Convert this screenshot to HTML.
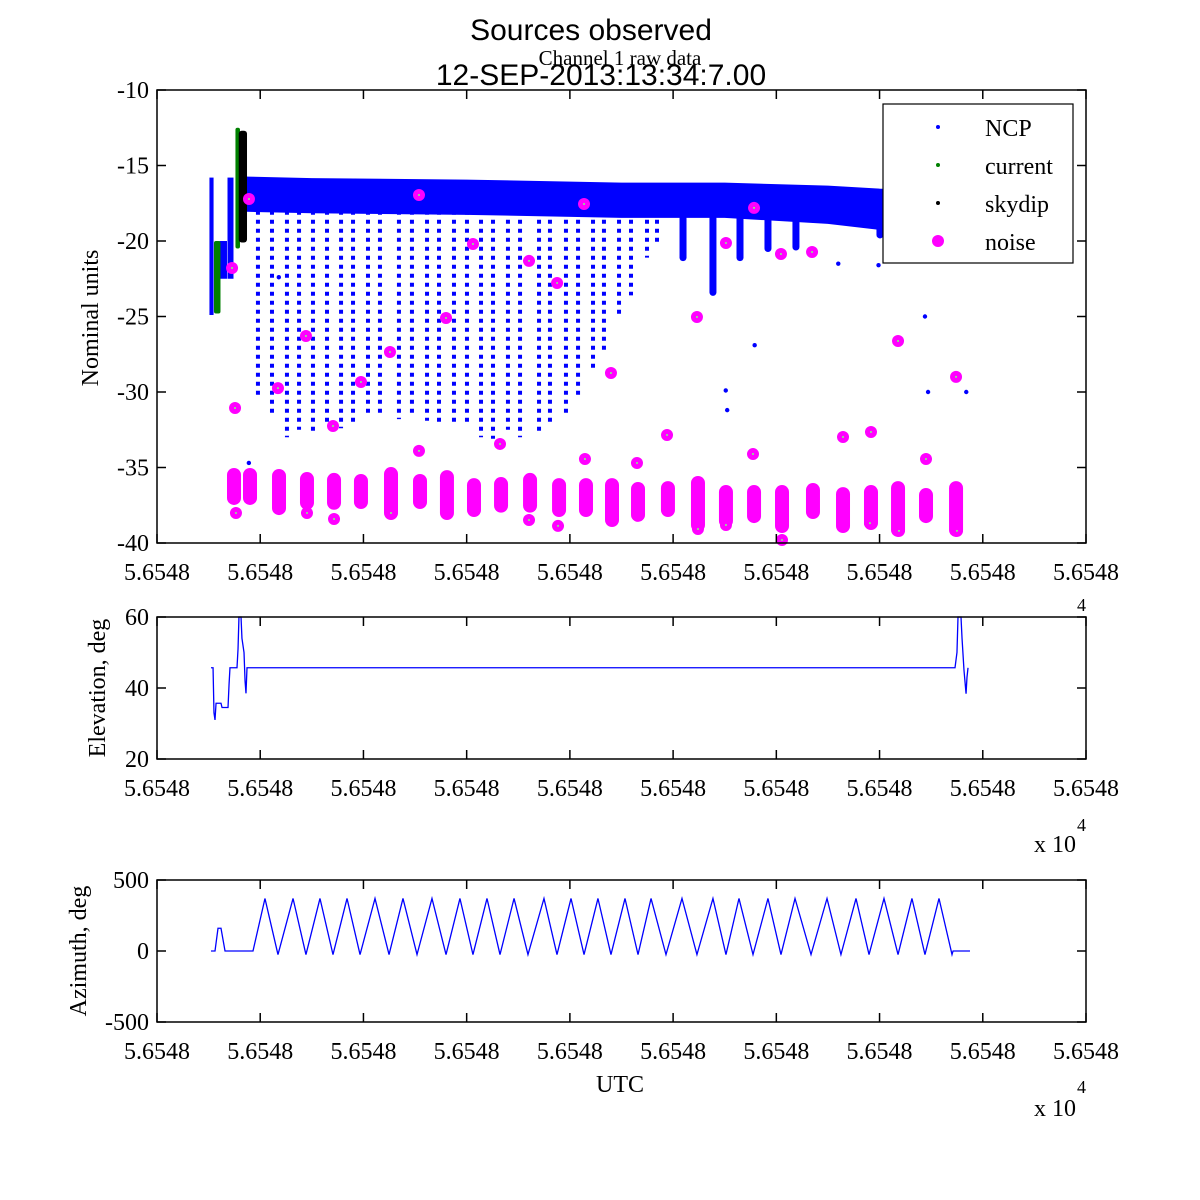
<!DOCTYPE html>
<html><head><meta charset="utf-8"><style>
html,body{margin:0;padding:0;background:#fff;}
svg{display:block;}
text{font-family:"Liberation Serif",serif;fill:#000;}
.sans{font-family:"Liberation Sans",sans-serif;}
</style></head>
<body>
<svg id="chart" width="1200" height="1200" viewBox="0 0 1200 1200" xmlns="http://www.w3.org/2000/svg">
<rect x="0" y="0" width="1200" height="1200" fill="#fff"/>
<g id="g-top"></g>
<g id="g-mid"></g>
<g id="g-bot"></g>
<g id="g-text">
<text class="sans" x="591" y="40" font-size="30" text-anchor="middle">Sources observed</text>
<text class="sans" x="601" y="85" font-size="30" text-anchor="middle">12-SEP-2013:13:34:7.00</text>
<text x="620" y="65" font-size="21" text-anchor="middle">Channel 1 raw data</text>
<text x="0" y="0" font-size="24" text-anchor="middle" transform="translate(98,318) rotate(-90)">Nominal units</text>
<text x="0" y="0" font-size="24" text-anchor="middle" transform="translate(105,688) rotate(-90)">Elevation, deg</text>
<text x="0" y="0" font-size="24" text-anchor="middle" transform="translate(86,951) rotate(-90)">Azimuth, deg</text>
<text x="620" y="1092" font-size="24" text-anchor="middle">UTC</text>
<text x="1077" y="611" font-size="18">4</text>
<text x="1034" y="852" font-size="24">x 10</text>
<text x="1077" y="831" font-size="18">4</text>
<text x="1034" y="1116" font-size="24">x 10</text>
<text x="1077" y="1093" font-size="18">4</text>
</g>
</svg>
<script>
// ---- data ----
const xTicks = [0,100,200,300,400,500,600,700,800,900];
const xTickLabels = ["5.6548","5.6548","5.6548","5.6548","5.6548","5.6548","5.6548","5.6548","5.6548","5.6548"];
const yTicksTop = [-10,-15,-20,-25,-30,-35,-40];
const yTicksMid = [20,40,60];
const yTicksBot = [500,0,-500];
// NCP main band
const bandT = [88,150,300,450,550,650,700,785];
const bandTop = [-15.8,-15.9,-16.0,-16.2,-16.2,-16.4,-16.6,-16.8];
const bandBot = [-18.0,-18.1,-18.2,-18.4,-18.4,-18.8,-19.2,-19.5];
// NCP dotted drop columns
const colT = [97.8,111.4,125.9,137.6,151.1,164.7,178.3,189.9,204.4,216,234.4,247,261.6,273.2,287.7,300.3,313.9,325.5,340,351.7,370.1,380.7,396.2,407.9,422.4,433,447.6,459.2,474.7,484.4];
const colDepth = [-30.5,-31.5,-33,-32.5,-32.8,-32.3,-32.4,-32,-31.5,-31.5,-31.8,-31.5,-31.9,-32.1,-32,-32.1,-33,-33.1,-32.5,-33,-32.8,-32.1,-31.4,-30.2,-28.5,-27.3,-25,-23.6,-21.1,-20.1];
// NCP thick spikes
const spikeT = [509.6,538.6,564.8,591.9,619,700.4];
const spikeDepth = [-21.1,-23.4,-21.1,-20.5,-20.4,-19.6];
// NCP early blocks
const ncpBlkT0 = [50.8,60.5,68.3];
const ncpBlkT1 = [54.8,67.8,74.1];
const ncpBlkTop = [-15.8,-20,-15.8];
const ncpBlkBot = [-24.9,-22.5,-22.5];
// isolated NCP points
const ncpPtT = [89,118,551,552.4,579,660,699,744,747,784];
const ncpPtV = [-34.7,-22.4,-29.9,-31.2,-26.9,-21.5,-21.6,-25,-30,-30];
// current (green)
const curT0 = [55.2,76.0];
const curT1 = [61.5,80.4];
const curTop = [-20,-12.5];
const curBot = [-24.8,-20.5];
// skydip (black)
const skyT0 = [79.2];
const skyT1 = [87.2];
const skyTop = [-12.7];
const skyBot = [-20.1];
// noise blobs
const blobT = [74.6,90.1,118.2,145.3,171.5,197.6,226.7,254.8,280.9,307.1,333.3,361.4,389.5,415.6,440.8,466,495,524.1,551.2,578.4,605.5,635.5,664.6,691.7,717.9,745,774.1];
const blobTop = [-35.03,-35.03,-35.1,-35.3,-35.36,-35.43,-34.97,-35.43,-35.17,-35.7,-35.63,-35.36,-35.7,-35.7,-35.7,-35.96,-35.9,-35.56,-36.16,-36.16,-36.16,-36.03,-36.3,-36.16,-35.9,-36.36,-35.9];
const blobBot = [-37.48,-37.48,-38.15,-37.8,-37.8,-37.75,-38.48,-37.75,-38.48,-38.28,-37.99,-37.99,-38.28,-38.28,-38.94,-38.6,-38.28,-39.27,-39.0,-38.68,-39.34,-38.41,-39.34,-39.14,-39.6,-38.68,-39.6];
// noise points
const noiseT = [72.7,89.1,75.6,76.5,117.2,144.3,170.5,145.3,197.6,225.7,171.5,226.7,253.8,280,306.1,253.8,332.3,360.4,387.6,413.7,360.4,388.5,414.6,439.8,465,494.1,523.1,551.2,577.4,578.4,604.5,634.6,664.6,691.7,717.9,745,774.1,605.5,524.1,551.2,690.7,718.8,775];
const noiseV = [-21.79,-17.22,-31.06,-38.01,-29.74,-26.29,-32.25,-38.01,-29.34,-27.35,-38.41,-38.01,-16.95,-25.1,-20.2,-33.9,-33.44,-21.32,-22.78,-17.55,-38.48,-38.87,-34.44,-28.74,-34.7,-32.85,-25.03,-20.13,-34.11,-17.81,-20.86,-20.73,-32.98,-32.65,-26.62,-34.44,-29.0,-39.8,-39.07,-38.81,-38.68,-39.2,-39.2];
// elevation
const elT = [52.3,54.3,55.2,56.2,57.2,62,63,68.8,69.8,70.7,77.5,78.5,79.4,81.4,82.3,84.3,85.3,86.2,87.2,773.1,775,776,778.9,779.9,781.8,783.8,784.7,785.7];
const elV = [45.7,45.7,33,31,35.7,35.7,34.5,34.5,41,45.7,45.7,51,60,60,54,50,42,38.5,45.7,45.7,50,60,60,54,45,38.4,43,45.7];
// azimuth
const azT = [52.3,56.2,59.1,62,65.9,93,
104.6,117.2,131.8,144.3,157.9,170.5,184.1,196.7,211.2,224.8,
238.3,251.9,266.4,280,293.5,306.1,319.7,332.3,345.9,359.4,
374.9,387.5,401.1,413.7,427.2,439.8,453.4,466,478.6,493.1,
508.6,523.1,538.6,551.2,563.8,577.4,591.9,604.5,618.1,633.6,
649.1,662.6,677.2,689.8,704.3,717.9,731.4,744,757.6,770.2,
771.2,787.6];
const azV = [0,0,160,160,0,0,
370,-25,370,-25,370,-25,370,-25,370,-25,
370,-25,370,-25,370,-25,370,-25,370,-25,
370,-25,370,-25,370,-25,370,-25,370,-25,
370,-25,370,-25,370,-25,370,-25,370,-25,
370,-25,370,-25,370,-25,370,-25,370,-25,
0,0];

// ---- scales ----
const X0=157, X1=1086;
function xs(t){return X0 + t*(X1-X0)/900;}
function yTop(v){return 543-(v+40)*453/30;}
function yMid(v){return 759-(v-20)*142/40;}
function yBot(v){return 951-v*142/1000;}
const NS="http://www.w3.org/2000/svg";
function mk(tag, parent, attrs){const e=document.createElementNS(NS,tag);for(const k in attrs)e.setAttribute(k,attrs[k]);parent.appendChild(e);return e;}

function axes(g, yt, y1, ys, ticks, labelY, prefix){
  const fr=mk('rect',g,{x:X0,y:yt,width:X1-X0,height:y1-yt,fill:'none',stroke:'#000','stroke-width':1.5});
  
  
  xTicks.forEach((t,i)=>{
    const x=xs(t);
    const a=mk('line',g,{x1:x,y1:y1,x2:x,y2:y1-9,stroke:'#000','stroke-width':1.5});
    
    
    const b=mk('line',g,{x1:x,y1:yt,x2:x,y2:yt+9,stroke:'#000','stroke-width':1.5});
    
    
    const tx=mk('text',g,{x:x,y:labelY,'font-size':24,'text-anchor':'middle'});
    tx.textContent=xTickLabels[i];
    
    
  });
  ticks.forEach(v=>{
    const y=ys(v);
    const a=mk('line',g,{x1:X0,y1:y,x2:X0+9,y2:y,stroke:'#000','stroke-width':1.5});
    
    
    const b=mk('line',g,{x1:X1,y1:y,x2:X1-9,y2:y,stroke:'#000','stroke-width':1.5});
    
    
    const tx=mk('text',g,{x:149,y:y+8,'font-size':24,'text-anchor':'end'});
    tx.textContent=String(v);
    
    
  });
}

// ---- top panel ----
const gt=document.getElementById('g-top');
let pts=[];
bandT.forEach((t,i)=>pts.push(xs(t)+','+yTop(bandTop[i])));
for(let i=bandT.length-1;i>=0;i--)pts.push(xs(bandT[i])+','+yTop(bandBot[i]));
const band=mk('polygon',gt,{points:pts.join(' '),fill:'#0000ff',stroke:'#0000ff','stroke-width':2});


colT.forEach((t,i)=>{
  const x=xs(t);
  const l=mk('line',gt,{x1:x,y1:yTop(bandBot[0]),x2:x,y2:yTop(colDepth[i]),stroke:'#0000ff','stroke-width':4,'stroke-dasharray':'4 5'});
  
  
});
spikeT.forEach((t,i)=>{
  const x=xs(t);
  const l=mk('line',gt,{x1:x,y1:yTop(-18.5),x2:x,y2:yTop(spikeDepth[i]),stroke:'#0000ff','stroke-width':7,'stroke-linecap':'round'});
  
  
});
ncpBlkT0.forEach((t,i)=>{
  const r=mk('rect',gt,{x:xs(t),y:yTop(ncpBlkTop[i]),width:xs(ncpBlkT1[i])-xs(t),height:yTop(ncpBlkBot[i])-yTop(ncpBlkTop[i]),fill:'#0000ff'});
  
  
});
ncpPtT.forEach((t,i)=>{
  const c=mk('circle',gt,{cx:xs(t),cy:yTop(ncpPtV[i]),r:2.2,fill:'#0000ff'});
  
  
});
curT0.forEach((t,i)=>{
  const r=mk('rect',gt,{x:xs(t),y:yTop(curTop[i]),width:xs(curT1[i])-xs(t),height:yTop(curBot[i])-yTop(curTop[i]),fill:'#008000',rx:2});
  
  
});
skyT0.forEach((t,i)=>{
  const r=mk('rect',gt,{x:xs(t),y:yTop(skyTop[i]),width:xs(skyT1[i])-xs(t),height:yTop(skyBot[i])-yTop(skyTop[i]),fill:'#000',rx:3});
  
  
});
blobT.forEach((t,i)=>{
  const y0=yTop(blobTop[i]), y1=yTop(blobBot[i]);
  const r=mk('rect',gt,{x:xs(t)-7,y:y0,width:14,height:y1-y0,rx:7,fill:'#ff00ff'});
  
  
});
noiseT.forEach((t,i)=>{
  const c=mk('circle',gt,{cx:xs(t),cy:yTop(noiseV[i]),r:6,fill:'#ff00ff'});
  
  
  const d=mk('circle',gt,{cx:xs(t),cy:yTop(noiseV[i]),r:1,fill:'#7fff7f'});
  
  
});
axes(gt,90,543,yTop,yTicksTop,580,'top');
// legend
const lg=mk('g',gt,{});


const lb=mk('rect',lg,{x:883,y:104,width:190,height:159,fill:'#fff',stroke:'#000','stroke-width':1.2});


const legNames=['NCP','current','skydip','noise'];
const legCols=['#0000ff','#008000','#000','#ff00ff'];
const legY=[127,165,203,241];
legNames.forEach((n,i)=>{
  const c=mk('circle',lg,{cx:938,cy:legY[i],r:i==3?6:2,fill:legCols[i]});
  
  
  const tx=mk('text',lg,{x:985,y:legY[i]+9,'font-size':24});
  tx.textContent=n;
  
  
});

// ---- middle panel ----
const gm=document.getElementById('g-mid');
const el=mk('polyline',gm,{points:elT.map((t,i)=>xs(t)+','+yMid(elV[i])).join(' '),fill:'none',stroke:'#0000ff','stroke-width':1.3});


axes(gm,617,759,yMid,yTicksMid,796,'mid');

// ---- bottom panel ----
const gb=document.getElementById('g-bot');
const az=mk('polyline',gb,{points:azT.map((t,i)=>xs(t)+','+yBot(azV[i])).join(' '),fill:'none',stroke:'#0000ff','stroke-width':1.3});


axes(gb,880,1022,yBot,yTicksBot,1059,'bot');
</script>
</body></html>
